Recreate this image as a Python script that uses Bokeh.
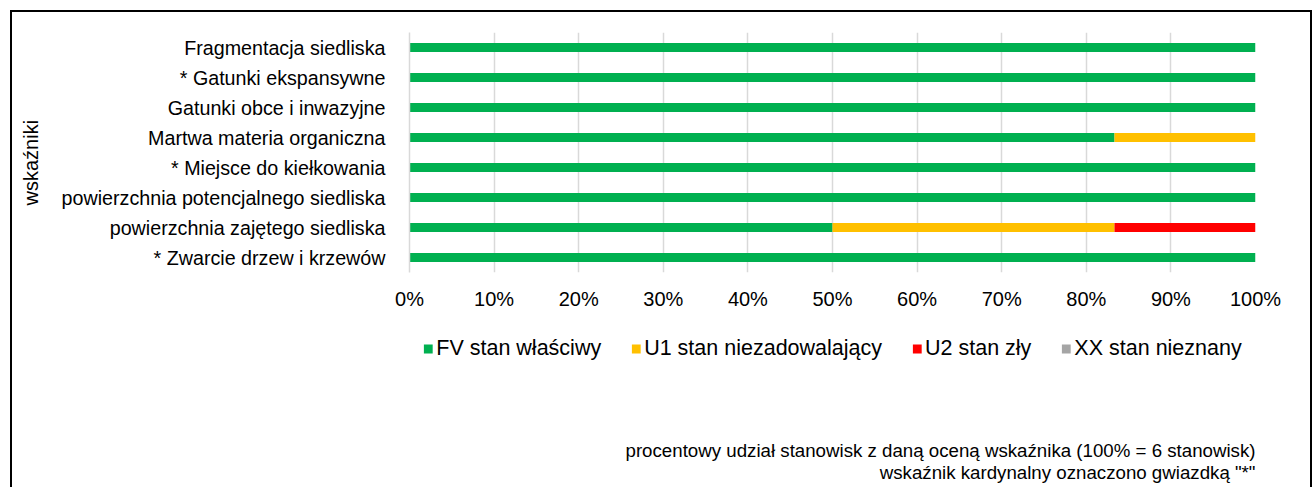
from bokeh.plotting import figure
from bokeh.layouts import column
from bokeh.models import (FactorRange, Range1d, NumeralTickFormatter, FixedTicker,
                          Legend, LegendItem, Title, Label, ColumnDataSource)
from bokeh.embed import file_html
from bokeh.resources import INLINE

# ---- data ----
categories = [
    "Fragmentacja siedliska",
    "* Gatunki ekspansywne",
    "Gatunki obce i inwazyjne",
    "Martwa materia organiczna",
    "* Miejsce do kiełkowania",
    "powierzchnia potencjalnego siedliska",
    "powierzchnia zajętego siedliska",
    "* Zwarcie drzew i krzewów",
]
fv_counts = [6, 6, 6, 5, 6, 6, 3, 6]
u1_counts = [0, 0, 0, 1, 0, 0, 2, 0]
u2_counts = [0, 0, 0, 0, 0, 0, 1, 0]
xx_counts = [0, 0, 0, 0, 0, 0, 0, 0]
total_sites = 6
series_keys = ["fv", "u1", "u2", "xx"]
series_names = ["FV stan właściwy", "U1 stan niezadowalający", "U2 stan zły", "XX stan nieznany"]
series_colors = ["#00B050", "#FFC000", "#FF0000", "#A5A5A5"]
x_ticks = [0, 0.1, 0.2, 0.3, 0.4, 0.5, 0.6, 0.7, 0.8, 0.9, 1.0]
y_title = "wskaźniki"
note_1 = "procentowy udział stanowisk z daną oceną wskaźnika (100% = 6 stanowisk)"
note_2 = "wskaźnik kardynalny oznaczono gwiazdką \"*\""

FONT = "Liberation Sans"
FS_CAT = "19.7px"
FS_AX = "20px"
FS_LEG = "21.5px"
FS_NOTE = "18.7px"

src = ColumnDataSource(dict(
    cat=categories,
    fv=[v / total_sites for v in fv_counts],
    u1=[v / total_sites for v in u1_counts],
    u2=[v / total_sites for v in u2_counts],
    xx=[v / total_sites for v in xx_counts],
))

# ---------- main chart ----------
p = figure(frame_width=846, frame_height=240,
           y_range=FactorRange(factors=list(reversed(categories)), range_padding=0),
           x_range=Range1d(0, 1),
           output_backend="svg", toolbar_location=None,
           min_border_left=409, min_border_right=59,
           min_border_top=32, min_border_bottom=20)
p.outline_line_color = None
p.border_fill_alpha = 0

p.hbar_stack(series_keys, y="cat", height=0.3,
             color=series_colors, line_color=None, source=src)

p.xaxis.ticker = FixedTicker(ticks=x_ticks)
p.xaxis.formatter = NumeralTickFormatter(format="0%")
p.xaxis.axis_line_color = None
p.xaxis.major_tick_line_color = None
p.xaxis.minor_tick_line_color = None
p.xaxis.major_label_text_font = FONT
p.xaxis.major_label_text_font_size = FS_AX
p.xaxis.major_label_text_color = "black"
p.xaxis.major_label_standoff = 9

p.yaxis.axis_line_color = "#D9D9D9"
p.yaxis.axis_line_width = 1.5
p.yaxis.major_tick_line_color = None
p.yaxis.minor_tick_line_color = None
p.yaxis.major_label_text_font = FONT
p.yaxis.major_label_text_font_size = FS_CAT
p.yaxis.major_label_text_color = "black"
p.yaxis.major_label_standoff = 18

p.xgrid.grid_line_color = "#D9D9D9"
p.xgrid.grid_line_width = 1.5
p.ygrid.grid_line_color = None

p.add_layout(Title(text=y_title, align="left", offset=67, standoff=34,
                   text_font=FONT, text_font_size=FS_AX, text_font_style="normal",
                   text_color="black"), "left")

# ---------- legend + notes strip ----------
H2 = 175
W2 = 942
q = figure(width=1314, height=H2, x_range=Range1d(0, W2), y_range=Range1d(H2, 0),
           x_axis_type=None, y_axis_type=None,
           output_backend="svg", toolbar_location=None,
           min_border_left=361, min_border_right=11, min_border_top=0, min_border_bottom=0)
q.outline_line_color = None
q.border_fill_alpha = 0
q.background_fill_alpha = 0
q.xgrid.visible = False
q.ygrid.visible = False

# zero-size proxy glyphs, only used for the legend swatches
proxy_src = ColumnDataSource(dict(y=[0], right=[0]))
proxies = [q.hbar(y="y", right="right", height=0, color=c, line_color=None, source=proxy_src)
           for c in series_colors]
legend = Legend(items=[LegendItem(label=n, renderers=[r]) for n, r in zip(series_names, proxies)],
                orientation="horizontal", location="top_center",
                label_text_font=FONT, label_text_font_size=FS_LEG, label_text_color="black",
                glyph_width=11, glyph_height=11, label_standoff=3, spacing=29,
                border_line_color=None, background_fill_alpha=0,
                padding=0, margin=24)
q.add_layout(legend)

q.add_layout(Label(x=W2, y=138, text=note_1, text_align="right", text_baseline="middle",
                   text_font=FONT, text_font_size=FS_NOTE, text_color="black"))
q.add_layout(Label(x=W2, y=160, text=note_2, text_align="right", text_baseline="middle",
                   text_font=FONT, text_font_size=FS_NOTE, text_color="black"))

layout = column(p, q, spacing=0, styles={
    "background-color": "white",
    "background-image": "linear-gradient(black, black), linear-gradient(black, black), linear-gradient(black, black)",
    "background-size": "2px 600px, 1302px 2px, 2px 600px",
    "background-position": "10px 10px, 10px 10px, 1310px 10px",
    "background-repeat": "no-repeat",
})

open("out.html", "w").write(file_html(layout, INLINE))
